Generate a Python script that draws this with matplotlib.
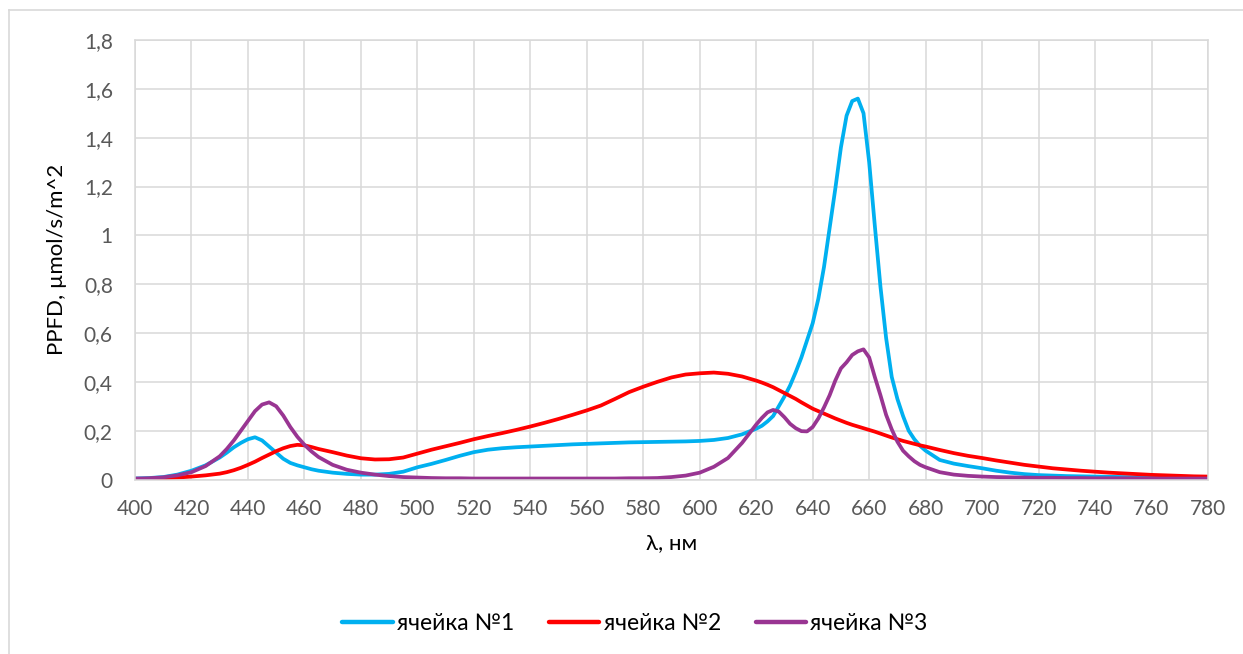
import matplotlib
matplotlib.use("Agg")
import matplotlib.pyplot as plt
from matplotlib.lines import Line2D

# Wavelength grid, nm (finer steps around the emission peaks)
wavelength = [400, 405, 410, 415, 420, 425, 430,
              432.5, 435, 437.5, 440, 442.5, 445, 447.5, 450, 452.5, 455, 457.5, 460, 462.5,
              465, 470, 475, 480, 485, 490, 495, 500, 505, 510, 515, 520, 525, 530, 535, 540,
              545, 550, 555, 560, 565, 570, 575, 580, 585, 590, 595, 600, 605, 610, 615, 620,
              622, 624, 626, 628, 630, 632, 634, 636, 638, 640, 642, 644, 646, 648, 650, 652,
              654, 656, 658, 660, 662, 664, 666, 668, 670, 672, 674, 676, 678, 680,
              685, 690, 695, 700, 705, 710, 715, 720, 725, 730, 735, 740, 745, 750, 755, 760,
              765, 770, 775, 780]

cell_1 = [0.004, 0.006, 0.010, 0.020, 0.036, 0.058, 0.090,
          0.110, 0.132, 0.150, 0.165, 0.173, 0.160, 0.135, 0.110, 0.085, 0.068, 0.058, 0.050, 0.042,
          0.036, 0.028, 0.023, 0.020, 0.020, 0.023, 0.032, 0.050, 0.064, 0.080, 0.097, 0.112, 0.122, 0.128, 0.132, 0.135,
          0.138, 0.141, 0.144, 0.146, 0.148, 0.150, 0.152, 0.153, 0.154, 0.155, 0.156, 0.158, 0.162, 0.170, 0.185, 0.208,
          0.220, 0.238, 0.260, 0.300, 0.340, 0.385, 0.440, 0.500, 0.570, 0.640, 0.740, 0.870, 1.030, 1.190, 1.360, 1.490,
          1.550, 1.560, 1.500, 1.300, 1.040, 0.790, 0.580, 0.420, 0.330, 0.260, 0.200, 0.165, 0.138, 0.118,
          0.080, 0.065, 0.055, 0.046, 0.036, 0.028, 0.022, 0.018, 0.016, 0.014, 0.013, 0.012, 0.011, 0.010, 0.009, 0.008,
          0.007, 0.006, 0.006, 0.005]

cell_2 = [0.002, 0.003, 0.005, 0.008, 0.012, 0.017, 0.024,
          0.030, 0.038, 0.048, 0.060, 0.073, 0.088, 0.102, 0.116, 0.128, 0.137, 0.142, 0.140, 0.133,
          0.125, 0.112, 0.098, 0.087, 0.082, 0.083, 0.090, 0.106, 0.122, 0.136, 0.150, 0.165, 0.178, 0.190, 0.203, 0.217,
          0.232, 0.248, 0.265, 0.283, 0.303, 0.330, 0.358, 0.380, 0.400, 0.418, 0.430, 0.435, 0.438, 0.433, 0.422, 0.405,
          0.397, 0.388, 0.378, 0.366, 0.354, 0.342, 0.330, 0.316, 0.303, 0.290, 0.280, 0.270, 0.260, 0.250, 0.241, 0.232,
          0.224, 0.217, 0.210, 0.203, 0.196, 0.188, 0.180, 0.172, 0.165, 0.158, 0.152, 0.146, 0.140, 0.135,
          0.121, 0.108, 0.097, 0.088, 0.078, 0.069, 0.060, 0.053, 0.046, 0.041, 0.036, 0.032, 0.028, 0.025, 0.022, 0.019,
          0.017, 0.015, 0.013, 0.012]

cell_3 = [0.004, 0.005, 0.009, 0.017, 0.030, 0.055, 0.095,
          0.125, 0.160, 0.200, 0.240, 0.280, 0.307, 0.316, 0.300, 0.262, 0.215, 0.175, 0.142, 0.115,
          0.092, 0.060, 0.040, 0.028, 0.020, 0.014, 0.010, 0.008, 0.006, 0.005, 0.005, 0.004, 0.004, 0.004, 0.004, 0.004,
          0.004, 0.004, 0.004, 0.004, 0.004, 0.004, 0.005, 0.005, 0.006, 0.010, 0.016, 0.028, 0.052, 0.088, 0.150, 0.225,
          0.252, 0.275, 0.285, 0.278, 0.255, 0.228, 0.210, 0.198, 0.197, 0.215, 0.250, 0.295, 0.345, 0.405, 0.455, 0.480,
          0.510, 0.525, 0.533, 0.500, 0.420, 0.345, 0.265, 0.205, 0.155, 0.118, 0.095, 0.075, 0.060, 0.050,
          0.030, 0.020, 0.015, 0.012, 0.010, 0.009, 0.008, 0.007, 0.007, 0.006, 0.006, 0.005, 0.005, 0.005, 0.005, 0.004,
          0.004, 0.004, 0.004, 0.004]

series_names = ["ячейка №1", "ячейка №2", "ячейка №3"]
series_colors = ["#00B0F0", "#FF0000", "#993592"]

x_ticks = list(range(400, 781, 20))
y_ticks = [0, 0.2, 0.4, 0.6, 0.8, 1.0, 1.2, 1.4, 1.6, 1.8]
y_tick_labels = ["0", "0,2", "0,4", "0,6", "0,8", "1", "1,2", "1,4", "1,6", "1,8"]

plt.rcParams["font.family"] = ["Lato", "DejaVu Sans"]

fig = plt.figure(figsize=(12.43, 6.54), dpi=100)
ax = fig.add_axes([135 / 1243, 1 - 479.5 / 654, (1208 - 135) / 1243, (479.5 - 40) / 654])

for values, name, color in zip([cell_1, cell_2, cell_3], series_names, series_colors):
    ax.plot(wavelength, values, color=color, lw=2.7, label=name,
            solid_capstyle="round", solid_joinstyle="round")

ax.set_xlim(400, 780)
ax.set_ylim(0, 1.8)
ax.set_xticks(x_ticks)
ax.set_yticks(y_ticks)
ax.set_yticklabels(y_tick_labels)
ax.grid(True, color="#D9D9D9", lw=1.1)
ax.set_axisbelow(True)
for s in ax.spines.values():
    s.set_color("#D9D9D9")
    s.set_linewidth(1.1)
ax.tick_params(axis="both", length=0, labelsize=15, labelcolor="#595959")
ax.tick_params(axis="y", pad=16)
ax.tick_params(axis="x", pad=14)

ax.set_xlabel("λ, нм", fontsize=16, color="black", labelpad=10)
ax.set_ylabel("PPFD, µmol/s/m^2", fontsize=16, color="black", labelpad=12)

leg = fig.legend(loc="center", bbox_to_anchor=(635 / 1243, 1 - 624 / 654), ncol=3,
                 frameon=False, fontsize=16.5, handlelength=2.2, handletextpad=0.2,
                 columnspacing=1.5)
for line in leg.get_lines():
    line.set_linewidth(3.2)

# Outer chart frame
fig.add_artist(Line2D([8.5 / 1243, 8.5 / 1243], [0, 1 - 10 / 654], transform=fig.transFigure,
                      color="#D9D9D9", lw=1.2))
fig.add_artist(Line2D([8.5 / 1243, 1], [1 - 10 / 654, 1 - 10 / 654], transform=fig.transFigure,
                      color="#D9D9D9", lw=1.2))

fig.savefig("out.png", dpi=100)
